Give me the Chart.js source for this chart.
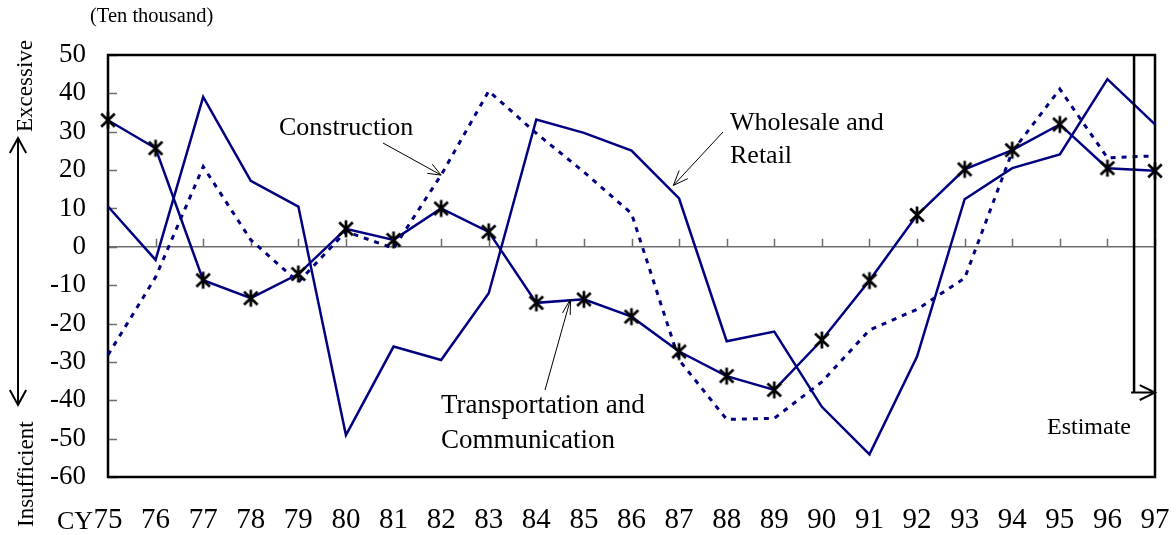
<!DOCTYPE html>
<html>
<head>
<meta charset="utf-8">
<script src="https://cdn.jsdelivr.net/npm/chart.js@4.4.0/dist/chart.umd.min.js"></script>
<style>
  html, body { margin: 0; padding: 0; background: #fff; }
</style>
</head>
<body>
<canvas id="myChart" width="1176" height="535"></canvas>
<script>
// categories (calendar years)
const years = ['75','76','77','78','79','80','81','82','83','84','85','86','87','88','89','90','91','92','93','94','95','96','97'];
// employment excess / shortage, ten thousand persons
const transport = [33, 25.7, -8.7, -13.4, -7.1, 4.7, 1.8, 10, 3.9, -14.6, -13.7, -18.2, -27.3, -33.7, -37.3, -24.3, -8.8, 8.3, 20.2, 25.2, 31.9, 20.5, 19.8];
const wholesale = [10.5, -3.4, 39.1, 17.2, 10.5, -49.1, -26, -29.5, -12.1, 33.2, 29.7, 25.1, 12.6, -24.6, -22.1, -41.7, -54.1, -28.6, 12.4, 20.5, 24.1, 43.7, 31.9];
const construction = [-28.2, -7.9, 20.9, 1.8, -9.2, 4, -0.4, 18.7, 40.6, 29.6, 19.5, 8.7, -29.5, -45, -44.7, -35.2, -21.7, -16.3, -8.2, 24.8, 41.1, 23.2, 23.7];
const yTicks = [50, 40, 30, 20, 10, 0, -10, -20, -30, -40, -50, -60];

const NAVY = '#000080';
const SERIF = "'Liberation Serif', 'Times New Roman', serif";

function makeStar() {
    const c = document.createElement('canvas');
    c.width = 20; c.height = 20;
    const g = c.getContext('2d');
    g.strokeStyle = '#000';
    g.lineWidth = 2.7;
    g.beginPath();
    g.moveTo(10, 1.5); g.lineTo(10, 18.5);
    g.moveTo(3.2, 3.6); g.lineTo(16.8, 16.4);
    g.moveTo(16.8, 3.6); g.lineTo(3.2, 16.4);
    g.stroke();
    return c;
}

function arrow(ctx, x1, y1, x2, y2, head, spread) {
    const a = Math.atan2(y2 - y1, x2 - x1);
    ctx.beginPath();
    ctx.moveTo(x1, y1); ctx.lineTo(x2, y2);
    ctx.moveTo(x2 - head * Math.cos(a - spread), y2 - head * Math.sin(a - spread));
    ctx.lineTo(x2, y2);
    ctx.lineTo(x2 - head * Math.cos(a + spread), y2 - head * Math.sin(a + spread));
    ctx.stroke();
}

const decor = {
    id: 'decor',
    beforeDatasetsDraw(chart) {
        const ctx = chart.ctx, a = chart.chartArea;
        const x = chart.scales.x, y = chart.scales.y;
        ctx.save();
        // zero line with category ticks
        const y0 = y.getPixelForValue(0);
        ctx.strokeStyle = '#6e6e6e';
        ctx.lineWidth = 1.5;
        ctx.beginPath();
        ctx.moveTo(a.left, y0); ctx.lineTo(a.right, y0);
        for (let i = 1; i < years.length; i++) {
            const px = Math.round(x.getPixelForValue(i)) + 0.5;
            ctx.moveTo(px, y0); ctx.lineTo(px, y0 - 8);
        }
        // value ticks, inward
        yTicks.forEach(v => {
            const py = Math.round(y.getPixelForValue(v)) + 0.5;
            ctx.moveTo(a.left, py); ctx.lineTo(a.left + 9, py);
        });
        ctx.stroke();
        // frame
        ctx.strokeStyle = '#000';
        ctx.lineWidth = 2.5;
        ctx.strokeRect(a.left, a.top, a.right - a.left, a.bottom - a.top);
        ctx.restore();
    },
    afterDraw(chart) {
        const ctx = chart.ctx, a = chart.chartArea;
        const x = chart.scales.x, y = chart.scales.y;
        const P = (i, v) => [x.getPixelForValue(i), y.getPixelForValue(v)];
        ctx.save();
        ctx.fillStyle = '#000';
        ctx.strokeStyle = '#000';

        // estimate marker
        const ex = x.getPixelForValue(21.56);
        const ey = y.getPixelForValue(-38);
        ctx.lineWidth = 2.5;
        ctx.beginPath();
        ctx.moveTo(ex, a.top); ctx.lineTo(ex, ey);
        ctx.stroke();
        ctx.lineWidth = 2;
        arrow(ctx, ex - 3, ey, a.right, ey, 17, 0.45);

        // left excessive/insufficient arrows
        ctx.lineWidth = 2;
        arrow(ctx, 18, 270, 18, 138, 17, 0.5);
        arrow(ctx, 18, 270, 18, 405, 17, 0.5);

        // leader arrows
        ctx.lineWidth = 1;
        let t = P(7, construction[7]);
        arrow(ctx, 383, 143, t[0], t[1], 14, 0.38);
        t = P(11.88, 16);
        arrow(ctx, 723, 132, t[0], t[1], 16, 0.38);
        t = P(9.72, -13.6);
        arrow(ctx, 545, 390, t[0], t[1], 16, 0.25);

        // texts
        ctx.textBaseline = 'alphabetic';
        ctx.textAlign = 'left';
        ctx.font = '20.5px ' + SERIF;
        ctx.fillText('(Ten thousand)', 90, 22);
        ctx.font = '26px ' + SERIF;
        ctx.fillText('Construction', 279, 135);
        ctx.fillText('Wholesale and', 730, 130);
        ctx.fillText('Retail', 730, 163);
        ctx.font = '27px ' + SERIF;
        ctx.fillText('Transportation and', 441, 413);
        ctx.fillText('Communication', 441, 448);
        ctx.font = '24px ' + SERIF;
        ctx.fillText('Estimate', 1047, 434);
        ctx.font = '26px ' + SERIF;
        ctx.fillText('CY', 57, 529);

        ctx.font = '23px ' + SERIF;
        ctx.textAlign = 'right';
        ctx.translate(32, 40);
        ctx.rotate(-Math.PI / 2);
        ctx.fillText('Excessive', 0, 0);
        ctx.restore();
        ctx.save();
        ctx.font = '23px ' + SERIF;
        ctx.fillStyle = '#000';
        ctx.textAlign = 'left';
        ctx.translate(33, 527);
        ctx.rotate(-Math.PI / 2);
        ctx.fillText('Insufficient', 0, 0);
        ctx.restore();
    }
};

const starImg = makeStar();

new Chart(document.getElementById('myChart'), {
    type: 'line',
    data: {
        labels: years,
        datasets: [
            {
                label: 'Transportation and Communication',
                data: transport,
                borderColor: NAVY,
                borderWidth: 2.5,
                pointStyle: starImg,
                pointRadius: 9,
                tension: 0,
                clip: false
            },
            {
                label: 'Wholesale and Retail',
                data: wholesale,
                borderColor: NAVY,
                borderWidth: 2.5,
                pointRadius: 0,
                tension: 0,
                clip: false
            },
            {
                label: 'Construction',
                data: construction,
                borderColor: NAVY,
                borderWidth: 3,
                borderDash: [5, 6],
                pointRadius: 0,
                tension: 0,
                clip: false
            }
        ]
    },
    options: {
        responsive: false,
        animation: false,
        layout: { padding: { top: 55, right: 21, left: 0, bottom: 0 } },
        plugins: { legend: { display: false }, tooltip: { enabled: false } },
        scales: {
            x: {
                offset: false,
                grid: { display: false, drawTicks: false },
                border: { display: false },
                ticks: {
                    autoSkip: false, maxRotation: 0, padding: 26, color: '#000',
                    font: { family: SERIF, size: 29 }
                },
                afterFit: s => { s.height = 58; s.paddingLeft = 0; s.paddingRight = 0; }
            },
            y: {
                min: -60, max: 50,
                grid: { display: false, drawTicks: false },
                border: { display: false },
                ticks: {
                    stepSize: 10, padding: 22, color: '#000',
                    font: { family: SERIF, size: 27 }
                },
                afterFit: s => { s.width = 108; }
            }
        }
    },
    plugins: [decor]
});
</script>
</body>
</html>
